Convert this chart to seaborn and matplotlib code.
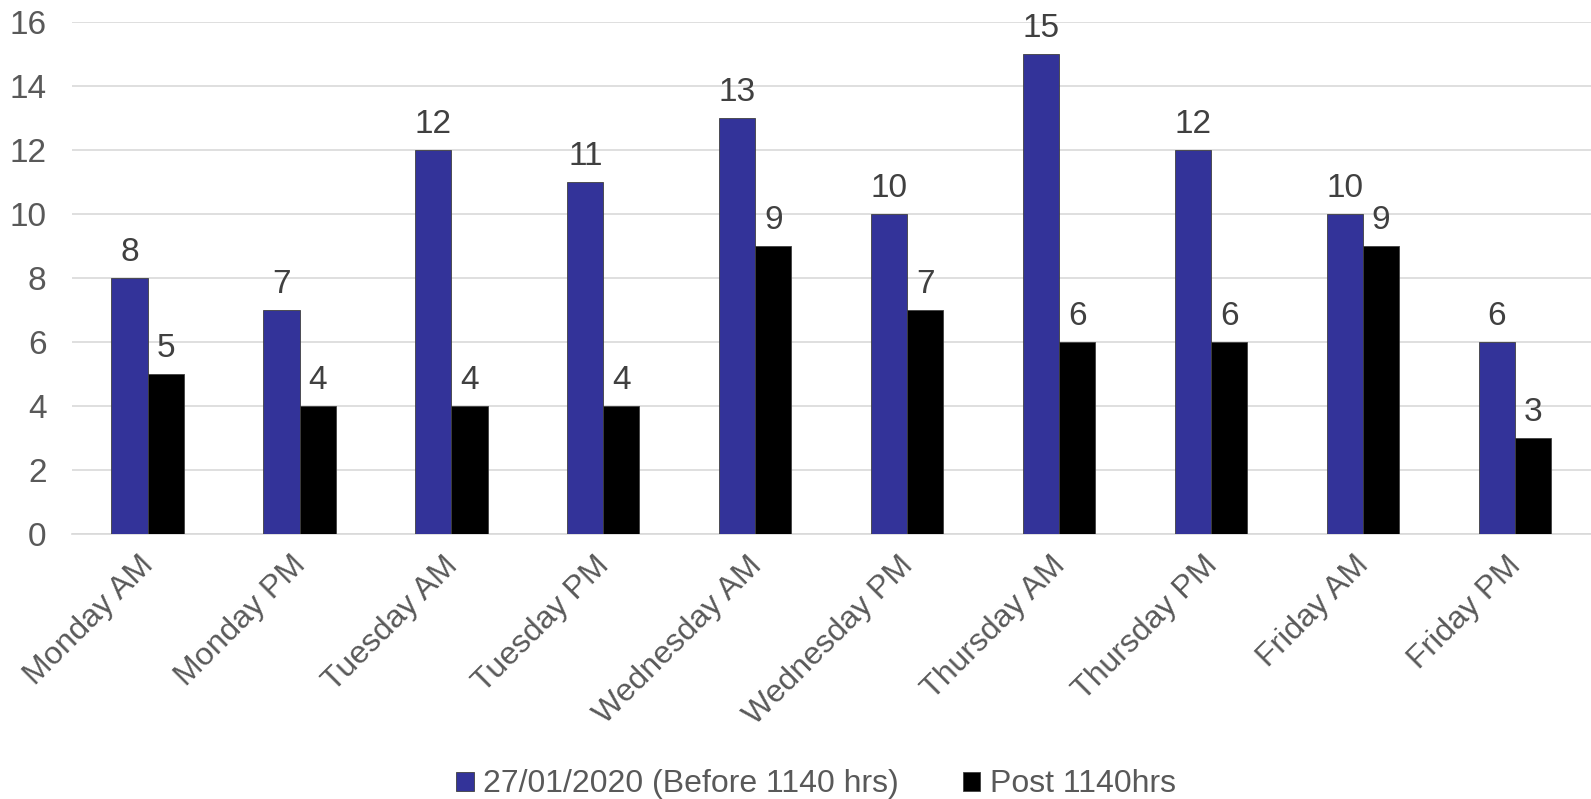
import pandas as pd
import matplotlib.pyplot as plt
import matplotlib.transforms as mtransforms
import seaborn as sns

# ---------- Data ----------
sessions = ['Monday AM', 'Monday PM', 'Tuesday AM', 'Tuesday PM', 'Wednesday AM',
            'Wednesday PM', 'Thursday AM', 'Thursday PM', 'Friday AM', 'Friday PM']
before = [8, 7, 12, 11, 13, 10, 15, 12, 10, 6]
post = [5, 4, 4, 4, 9, 7, 6, 6, 9, 3]
series_names = ['27/01/2020 (Before 1140 hrs)', 'Post 1140hrs']
colors = ['#333399', '#000000']
yticks = [0, 2, 4, 6, 8, 10, 12, 14, 16]

df = pd.DataFrame({
    'session': sessions * 2,
    'count': before + post,
    'series': [series_names[0]] * len(sessions) + [series_names[1]] * len(sessions),
})

# ---------- Plot ----------
sns.set_style('white')
plt.rcParams['font.family'] = ['Liberation Sans', 'DejaVu Sans']
text_color = '#595959'
fs = 24

fig, ax = plt.subplots(figsize=(15.91, 7.99), dpi=100)
fig.subplots_adjust(left=0.045, right=1.0, top=0.973, bottom=0.332)

sns.barplot(data=df, x='session', y='count', hue='series', order=sessions,
            hue_order=series_names, palette=colors, saturation=1, width=0.475, gap=0,
            edgecolor='#404040', linewidth=0.6, ax=ax, zorder=3)

for container in ax.containers:
    ax.bar_label(container, fmt='%d', padding=7, fontsize=fs, color='#404040')

ax.set_ylim(0, 16)
ax.set_yticks(yticks)
ax.yaxis.grid(True, color='#d9d9d9', linewidth=1.2, zorder=0)
ax.set_axisbelow(True)
for side in ['top', 'right', 'left']:
    ax.spines[side].set_visible(False)
ax.spines['bottom'].set_color('#d9d9d9')
ax.spines['bottom'].set_linewidth(1.2)
ax.set_xlim(-0.5, len(sessions) - 0.5)

ax.tick_params(axis='y', labelsize=fs, colors=text_color, length=0, pad=18)
ax.tick_params(axis='x', labelsize=23, colors=text_color, length=0, pad=12)
shift = mtransforms.ScaledTranslation(-9 / 100, 0, fig.dpi_scale_trans)
for lbl in ax.get_xticklabels():
    lbl.set_rotation(45)
    lbl.set_ha('right')
    lbl.set_rotation_mode('anchor')
    lbl.set_transform(lbl.get_transform() + shift)
ax.set_xlabel('')
ax.set_ylabel('')

ax.legend(loc='lower center', bbox_to_anchor=(0.49, -0.575), ncol=2, frameon=False,
          fontsize=23, labelcolor=text_color, handlelength=0.55, handleheight=0.55,
          handletextpad=0.3, columnspacing=2.0)

plt.savefig('out.png', dpi=100)
plt.close()
